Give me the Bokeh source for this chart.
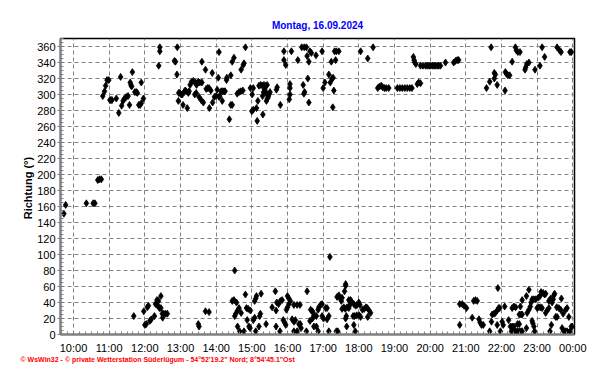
from bokeh.plotting import figure
from bokeh.models import FixedTicker, Range1d, ColumnDataSource, Title
from bokeh.embed import file_html
from bokeh.resources import INLINE

title_text = "Montag, 16.09.2024"
y_label = "Richtung  (°)"
footer_text = "© WsWin32  -  © private Wetterstation Süderlügum  -  54°52'19.2\" Nord; 8°54'45.1\"Ost"
hour_ticks = list(range(10, 25))
hour_labels = ["10:00", "11:00", "12:00", "13:00", "14:00", "15:00", "16:00", "17:00",
               "18:00", "19:00", "20:00", "21:00", "22:00", "23:00", "00:00"]
deg_ticks = list(range(0, 361, 20))

# wind direction samples: time in decimal hours, direction in degrees
t_early = [9.73, 9.78, 10.36, 10.55, 10.60, 10.68, 10.73, 10.78]
d_early = [151, 162, 164, 164, 164, 193, 194, 194]

t_upper1 = [10.82, 10.87, 10.90, 10.94, 10.99, 11.02, 11.05, 11.08, 11.20, 11.27, 11.32, 11.35, 11.39, 11.43,
            11.48, 11.53, 11.57, 11.59, 11.61, 11.63, 11.65, 11.72, 11.76, 11.79, 11.83, 11.87, 11.90, 11.90, 11.96,
            12.39, 12.42, 12.42, 12.83, 12.86, 12.90, 12.91, 12.94, 12.95, 12.98, 13.02, 13.05, 13.07, 13.10, 13.13,
            13.16, 13.19, 13.22, 13.24, 13.27, 13.31, 13.36, 13.42, 13.45, 13.50, 13.54, 13.60, 13.60, 13.70,
            13.40, 13.44, 13.52, 13.58, 13.64, 13.72, 13.76, 13.80, 13.81, 13.85, 13.89, 13.90,
            13.95, 14.00, 14.03, 14.06, 14.08, 14.08, 14.10, 14.14, 14.18, 14.22, 14.25, 14.17, 14.29, 14.30,
            14.37, 14.41, 14.45, 14.50, 14.41, 14.45]
d_upper1 = [298, 304, 311, 318, 318, 293, 293, 293, 295, 277, 322, 286, 292, 295,
            297, 298, 287, 315, 312, 310, 328, 303, 303, 302, 287, 287, 289, 315, 295,
            336, 359, 354, 342, 341, 325, 359, 292, 302, 302, 300, 300, 287, 303, 305,
            304, 283, 302, 304, 312, 316, 317, 315, 312, 316, 315, 315, 341, 331,
            300, 302, 297, 293, 290, 307, 308, 308, 283, 305, 327, 290,
            297, 298, 306, 321, 353, 297, 298, 304, 304, 304, 304, 292, 318, 321,
            269, 324, 341, 346, 287, 287]

t_upper2 = [14.82, 14.78, 14.76, 14.70, 14.59, 14.64, 14.69, 14.75, 14.96, 15.04, 15.01, 15.00, 15.04, 15.13,
            15.15, 15.17, 15.20, 15.25, 15.30, 15.34, 15.39, 15.43, 15.30, 15.33, 15.36, 15.39, 15.43, 15.46,
            15.48, 15.51, 15.41, 15.44, 15.31, 15.71, 15.69, 15.80, 15.90, 16.11, 15.90, 15.95, 16.07, 16.07,
            16.07, 16.05, 16.29, 16.40, 16.47, 16.53, 16.63, 16.67, 16.55, 16.60, 16.80, 16.97, 16.57, 16.44,
            16.48, 16.46, 16.60, 17.00, 17.05, 17.16, 17.20, 17.25, 17.28, 17.30, 17.27, 17.23, 17.35, 17.32,
            17.37, 17.44, 18.05, 18.40, 18.25]
d_upper2 = [359, 339, 337, 331, 301, 303, 304, 305, 308, 308, 300, 279, 281, 283,
            267, 292, 311, 312, 311, 312, 311, 312, 298, 303, 306, 303, 300, 297,
            300, 303, 292, 295, 275, 309, 306, 287, 354, 354, 343, 337, 313, 308,
            300, 294, 343, 359, 359, 359, 354, 352, 348, 341, 349, 354, 320, 312,
            303, 301, 290, 308, 315, 325, 315, 320, 321, 305, 284, 341, 343, 354,
            354, 354, 354, 359, 345]

t_upper3 = [18.53, 18.58, 18.63, 18.67, 18.72, 18.77, 18.84, 19.08, 19.15, 19.22, 19.29, 19.36, 19.43, 19.49,
            19.64, 19.68, 19.73, 19.53, 19.55, 19.57, 19.60, 19.73, 19.80, 19.87, 19.92, 19.97, 20.01, 20.06,
            20.11, 20.15, 20.20, 20.24, 20.29, 20.43, 20.66, 20.71, 20.76, 20.80,
            21.71, 21.80, 21.83, 21.80, 21.67, 21.58, 21.88, 22.11, 22.14, 22.18, 22.23, 22.10, 22.30,
            22.39, 22.42, 22.46, 22.52, 22.66, 22.68, 22.71, 22.77, 22.94, 23.08, 23.14, 23.21,
            23.56, 23.63, 23.67, 23.92, 23.96]
d_upper3 = [308, 310, 311, 309, 308, 308, 308, 308, 308, 308, 308, 308, 308, 308,
            313, 315, 314, 347, 343, 340, 338, 336, 336, 336, 336, 336, 336, 336,
            336, 336, 336, 336, 336, 340, 340, 342, 343, 343,
            359, 327, 325, 320, 316, 308, 312, 328, 326, 324, 324, 305, 341,
            359, 355, 353, 353, 331, 334, 338, 340, 331, 336, 359, 347,
            359, 355, 353, 353, 353]

t_lower1 = [11.69, 11.97, 12.00, 12.04, 12.07, 12.10, 12.14, 12.18, 12.27, 12.30, 12.34, 12.38, 12.36, 12.41,
            12.45, 12.45, 12.49, 12.53, 12.58, 12.63, 12.50, 13.50, 13.52, 13.70, 13.80, 14.45, 14.50, 14.52,
            14.52, 14.57, 14.55, 14.60, 14.64, 14.60, 14.66, 14.78, 14.70, 14.82, 14.85, 14.90, 14.96, 14.87,
            14.92, 14.95, 15.04, 15.08, 15.08, 15.11, 15.13, 15.11, 15.20, 15.22, 15.24, 15.26, 15.40, 15.57,
            15.66, 15.68, 15.68, 15.70, 15.75, 15.80, 15.85, 15.79, 15.88, 15.92, 15.95, 15.97, 16.00, 16.04,
            16.00, 16.04, 16.08, 16.13, 16.18, 16.22, 16.18, 16.27, 16.18, 16.27, 16.35, 16.32, 16.36, 16.38,
            16.53, 16.55, 16.65, 16.70, 16.72, 16.63, 16.70, 16.74, 16.74, 16.81, 16.86, 16.81, 16.86, 16.88,
            16.93, 16.97, 17.07, 17.11, 16.97, 17.01, 17.11, 17.16, 17.19, 17.16, 17.37, 17.41]
d_lower1 = [23, 29, 12, 13, 34, 36, 17, 19, 23, 38, 43, 42, 36, 33,
            33, 48, 26, 26, 26, 26, 21, 13, 10, 29, 28, 42, 43, 80,
            23, 40, 26, 30, 33, 10, 4, 4, 27, 50, 33, 32, 30, 18,
            10, 8, 18, 21, 42, 45, 48, 4, 10, 23, 26, 51, 13, 34,
            54, 30, 10, 40, 38, 42, 43, 4, 18, 15, 12, 31, 34, 38,
            48, 45, 42, 19, 16, 18, 4, 4, 37, 37, 37, 13, 13, 8,
            4, 54, 31, 29, 27, 17, 20, 23, 10, 10, 4, 23, 31, 34,
            37, 38, 33, 33, 23, 20, 19, 23, 97, 4, 4, 4]

t_lower2 = [17.39, 17.44, 17.48, 17.51, 17.53, 17.63, 17.63, 17.60, 17.53, 17.58, 17.62, 17.67, 17.65, 17.63,
            17.66, 17.72, 17.77, 17.80, 17.75, 17.72, 17.84, 17.88, 17.94, 18.01, 18.05, 17.86, 17.90, 17.86,
            17.91, 17.95, 18.00, 18.03, 18.10, 18.15, 18.20, 18.24, 18.29, 18.33, 18.25]
d_lower2 = [47, 49, 45, 42, 46, 63, 61, 54, 32, 34, 32, 34, 23, 20,
            10, 43, 43, 41, 37, 33, 23, 23, 24, 24, 22, 12, 4, 38,
            36, 37, 40, 37, 31, 32, 34, 33, 30, 27, 22]

t_lower3 = [20.83, 20.90, 20.95, 21.02, 20.83, 21.18, 21.22, 21.27, 21.32, 21.37, 21.40, 21.44, 21.49, 21.67,
            21.74, 21.79, 21.83, 21.88, 21.92, 21.95, 21.72, 21.88, 21.90, 21.97, 22.02, 22.05, 22.09, 22.20,
            22.25, 22.30, 22.35, 22.30, 22.35, 22.40, 22.28, 22.35, 22.40, 22.45, 22.50, 22.55, 22.58, 22.45,
            22.50, 22.50, 22.55, 22.58, 22.53, 22.58, 22.70, 22.70, 22.72, 22.77, 22.81, 22.77, 22.83, 22.86,
            22.91, 22.96, 22.86, 22.88, 22.91, 22.93, 23.00, 23.05, 23.10, 23.14, 23.03, 23.08, 23.11, 23.17,
            23.21, 23.24, 23.24, 23.28, 23.33, 23.36, 23.40, 23.33, 23.38, 23.42, 23.45, 23.49, 23.47, 23.52,
            23.56, 23.55, 23.61, 23.66, 23.80, 23.84, 23.68, 23.73, 23.70, 23.75, 23.80, 23.84, 23.92, 23.89,
            23.96, 23.98]
d_lower3 = [38, 38, 36, 33, 12, 21, 42, 43, 42, 19, 15, 12, 12, 4,
            25, 26, 27, 30, 33, 33, 16, 12, 58, 4, 16, 12, 35, 18,
            10, 10, 10, 33, 35, 34, 4, 4, 4, 4, 4, 4, 4, 13,
            13, 25, 25, 25, 35, 43, 48, 8, 27, 31, 35, 56, 40, 44,
            44, 44, 17, 14, 10, 4, 33, 34, 34, 33, 46, 48, 53, 52,
            50, 51, 27, 30, 33, 4, 12, 42, 45, 40, 44, 51, 49, 22,
            22, 34, 33, 31, 31, 33, 45, 26, 8, 4, 4, 4, 4, 22,
            10, 10]

times = t_early + t_upper1 + t_upper2 + t_upper3 + t_lower1 + t_lower2 + t_lower3
dirs = d_early + d_upper1 + d_upper2 + d_upper3 + d_lower1 + d_lower2 + d_lower3
src = ColumnDataSource(data=dict(t=times, d=dirs))

W, H = 592, 384
BL, BR, BT, BB = 60, 18, 38, 50
x0, x1 = 9.635, 24.048
y0, y1 = 0, 370

p = figure(width=W, height=H, output_backend="svg", toolbar_location=None,
           x_range=Range1d(x0, x1), y_range=Range1d(y0, y1),
           min_border_left=BL, min_border_right=BR, min_border_top=BT, min_border_bottom=BB)
p.background_fill_color = "white"
p.border_fill_color = "white"
p.outline_line_color = "black"
p.outline_line_width = 1.5

p.scatter("t", "d", source=src, marker="diamond", size=7, color="black", line_width=0.8)

xt = FixedTicker(ticks=hour_ticks, minor_ticks=[10 + i / 6 for i in range(-2, 85)])
p.xaxis.ticker = xt
p.xaxis.major_label_overrides = {h: l for h, l in zip(hour_ticks, hour_labels)}
yt = FixedTicker(ticks=deg_ticks, minor_ticks=list(range(0, 371, 5)))
p.yaxis.ticker = yt

for ax in (p.xaxis[0], p.yaxis[0]):
    ax.axis_line_color = "#808080"
    ax.axis_line_width = 2
    ax.major_tick_line_color = "#808080"
    ax.minor_tick_line_color = "#808080"
    ax.major_tick_in = 0
    ax.minor_tick_out = 0
    ax.minor_tick_in = 3
    ax.major_label_text_font = "Liberation Sans"
    ax.major_label_text_font_size = "11px"
    ax.major_label_text_color = "black"
p.xaxis.major_tick_out = 0
p.xaxis.major_label_standoff = 7
p.yaxis.major_tick_out = 3
p.yaxis.major_label_standoff = 2
p.yaxis.axis_label = y_label
p.yaxis.axis_label_text_font = "Liberation Sans"
p.yaxis.axis_label_text_font_size = "11px"
p.yaxis.axis_label_text_font_style = "bold"
p.yaxis.axis_label_text_color = "black"
p.yaxis.axis_label_standoff = 0

for g in (p.xgrid[0], p.ygrid[0]):
    g.grid_line_color = "#808080"
    g.grid_line_dash = "4 3"
    g.grid_line_width = 1

p.add_layout(Title(text=title_text, align="center", offset=-55, standoff=16,
                   text_font="Liberation Sans", text_font_size="10px",
                   text_font_style="bold", text_color="#0000ff"), "above")
p.add_layout(Title(text=footer_text, align="left", offset=-40, standoff=-5,
                   text_font="Liberation Sans", text_font_size="7px",
                   text_font_style="bold", text_color="#ff0000"), "below")

open("out.html", "w").write(file_html(p, INLINE))
